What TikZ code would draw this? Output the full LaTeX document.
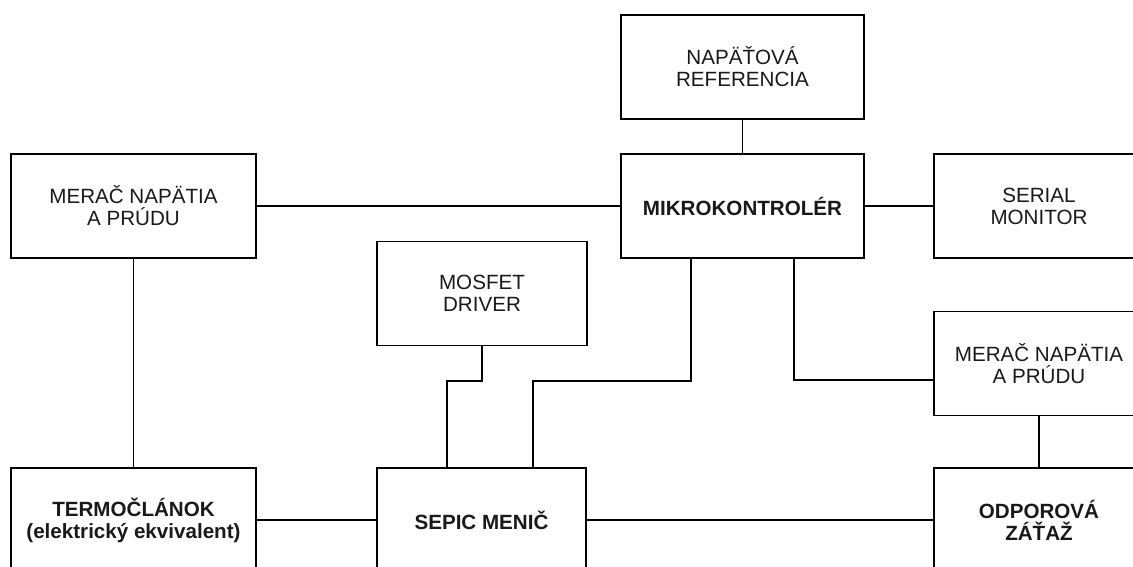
\documentclass[tikz,border=0pt]{standalone}
\usepackage{fontspec}
\setmainfont{Liberation Sans}
\begin{document}
\begin{tikzpicture}[x=1pt,y=-1pt,
  blk/.style={draw=black,line width=1.2pt,rectangle,minimum height=104pt,align=center,inner sep=0pt,text=black!90,font=\fontsize{20.6}{22}\selectfont},
  wide/.style={blk,minimum width=245pt},
  mid/.style={blk,minimum width=210pt},
  bld/.style={font=\fontsize{20.6}{22}\selectfont\bfseries},
  wire/.style={line width=1.2pt,black}]
\useasboundingbox (0,0) rectangle (1133,566);
\node[wide] (meterL) at (133.5,206) {MERAČ NAPÄTIA\\A PRÚDU};
\node[blk,minimum width=243pt] (ref) at (742.5,67) {NAPÄŤOVÁ\\REFERENCIA};
\node[blk,minimum width=243pt,bld] (mcu) at (742.5,206) {MIKROKONTROLÉR};
\node[mid] (serial) at (1039,206) {SERIAL\\MONITOR};
\node[mid] (mosfet) at (482,293.5) {MOSFET\\DRIVER};
\node[mid] (meterR) at (1039,363.5) {MERAČ NAPÄTIA\\A PRÚDU};
\node[wide,bld] (termo) at (133.5,520) {TERMOČLÁNOK\\(elektrický ekvivalent)};
\node[blk,minimum width=209pt,bld] (sepic) at (481.5,520) {SEPIC MENIČ};
\node[mid,bld] (odpor) at (1039,520) {ODPOROVÁ\\ZÁŤAŽ};
\coordinate (j1) at (447,381);
\coordinate (m1) at (691,258);
\coordinate (j2) at (533,381);
\coordinate (m2) at (794,258);
\coordinate (j3) at (934,380);
\draw[wire] (meterL.east) -- (mcu.west);
\draw[wire] (mcu.east) -- (serial.west);
\draw[wire] (ref.south) -- (mcu.north);
\draw[wire] (meterL.south) -- (termo.north);
\draw[wire] (mosfet.south) |- (j1) -- (j1 |- sepic.north);
\draw[wire] (m1) |- (j2) -- (j2 |- sepic.north);
\draw[wire] (m2) |- (j3);
\draw[wire] (meterR.south) -- (odpor.north);
\draw[wire] (termo.east) -- (sepic.west);
\draw[wire] (sepic.east) -- (odpor.west);
\end{tikzpicture}
\end{document}
